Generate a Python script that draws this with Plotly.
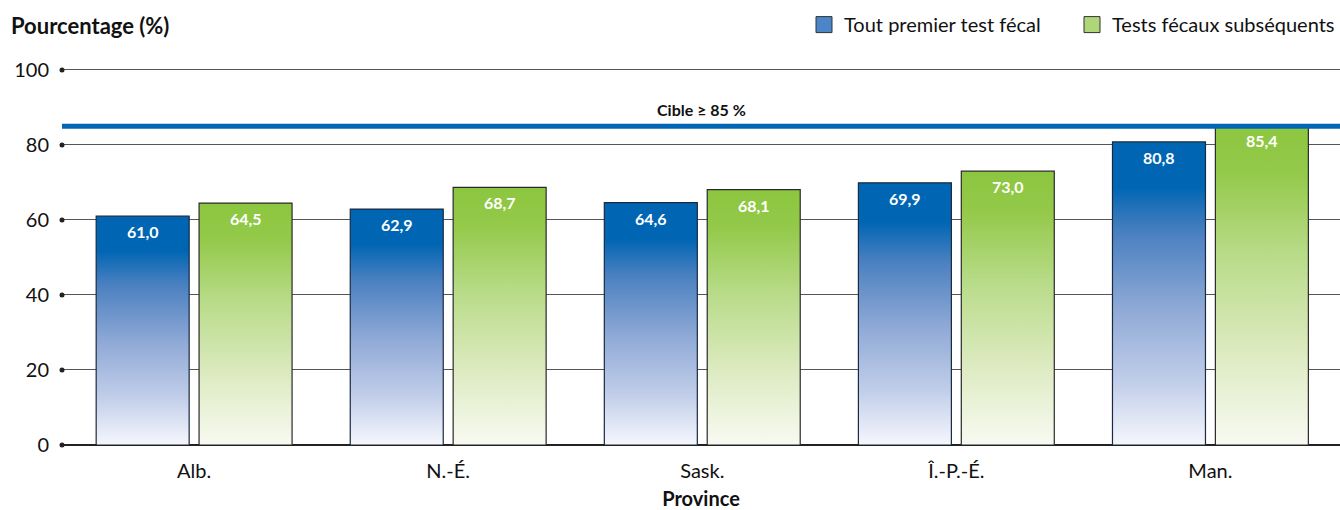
import plotly.graph_objects as go

# Data
provinces = ["Alb.", "N.-É.", "Sask.", "Î.-P.-É.", "Man."]
first_test = [61.0, 62.9, 64.6, 69.9, 80.8]
subsequent_tests = [64.5, 68.7, 68.1, 73.0, 85.4]
series_names = ["Tout premier test fécal", "Tests fécaux subséquents"]
target_value = 85
target_label = "Cible ≥ 85 %"
y_ticks = [0, 20, 40, 60, 80, 100]

FONT = "Lato, 'Open Sans', sans-serif"
BAR_W = 0.366
OFFSET = 0.2025

blue_scale = [[0.0, "#f6f7fd"], [0.2, "#c3cfea"], [0.45, "#8fa9d6"],
              [0.7, "#4a80c0"], [0.85, "#0066b3"], [1.0, "#0066b3"]]
green_scale = [[0.0, "#f8faf2"], [0.3, "#dceabf"], [0.6, "#b7db87"],
               [0.85, "#94c94a"], [1.0, "#8cc63f"]]

fig = go.Figure()


def fmt(v):
    return f"{v:.1f}".replace(".", ",")


def add_bars(values, shift, scale, line_color):
    for i, v in enumerate(values):
        x0, x1 = i + shift - BAR_W / 2, i + shift + BAR_W / 2
        fig.add_trace(go.Scatter(
            x=[x0, x0, x1, x1, x0], y=[0, v, v, 0, 0],
            mode="lines", fill="toself",
            fillgradient=dict(type="vertical", colorscale=scale, start=0, stop=v),
            line=dict(color=line_color, width=1.2),
            showlegend=False, hoverinfo="skip"))
        fig.add_annotation(x=i + shift, y=v, text=f"<b>{fmt(v)}</b>",
                           showarrow=False, yanchor="top", yshift=-4,
                           font=dict(family=FONT, size=16, color="white"))


add_bars(first_test, -OFFSET, blue_scale, "#1a2a40")
add_bars(subsequent_tests, OFFSET, green_scale, "#2a2a2a")

# Legend entries
for name, col in zip(series_names, ["#4a86c8", "#b0d67a"]):
    fig.add_trace(go.Scatter(
        x=[None], y=[None], mode="markers", name=name,
        marker=dict(symbol="square", size=17, color=col,
                    line=dict(color="#333333", width=1))))

# Tick dots at the left end of each gridline
fig.add_trace(go.Scatter(
    x=[-0.52] * len(y_ticks), y=y_ticks, mode="markers",
    marker=dict(size=5, color="#222222"), cliponaxis=False,
    showlegend=False, hoverinfo="skip"))

# Target line
fig.add_shape(type="line", xref="paper", x0=0, x1=1, yref="y",
              y0=target_value, y1=target_value,
              line=dict(color="#0066b3", width=5), layer="above")
fig.add_annotation(x=0.5, xref="paper", y=target_value, yref="y",
                   text=f"<b>{target_label}</b>", showarrow=False,
                   yanchor="bottom", yshift=5,
                   font=dict(family=FONT, size=16, color="#111111"))

# Y-axis title at top-left
fig.add_annotation(x=0, xref="paper", xanchor="left", xshift=-53,
                   y=1, yref="paper", yanchor="middle", yshift=43,
                   text="<b>Pourcentage (%)</b>", showarrow=False,
                   font=dict(family=FONT, size=22, color="#111111"))

fig.update_layout(
    width=1340, height=510,
    margin=dict(l=62, r=0, t=68, b=65),
    plot_bgcolor="white", paper_bgcolor="white",
    font=dict(family=FONT, size=20, color="#111111"),
    showlegend=True,
    legend=dict(orientation="h", x=1.0, xanchor="right", y=0.99,
                yref="container", yanchor="top",
                font=dict(family=FONT, size=20, color="#111111"),
                entrywidth=223, entrywidthmode="pixels",
                itemwidth=30, tracegroupgap=0, bgcolor="rgba(0,0,0,0)"),
    xaxis=dict(range=[-0.52, 4.51], tickmode="array",
               tickvals=list(range(len(provinces))), ticktext=provinces,
               showgrid=False, zeroline=False, showline=False, ticks="",
               ticklabelstandoff=12, tickfont=dict(size=20),
               title=dict(text="<b>Province</b>", font=dict(size=20), standoff=10)),
    yaxis=dict(range=[0, 100.5], tickmode="array", tickvals=y_ticks,
               showgrid=True, gridcolor="#555555", gridwidth=1.2,
               zeroline=True, zerolinecolor="#222222", zerolinewidth=2,
               showline=False, ticks="", ticklabelstandoff=12,
               tickfont=dict(size=20)),
)

fig.write_html("out.html")
